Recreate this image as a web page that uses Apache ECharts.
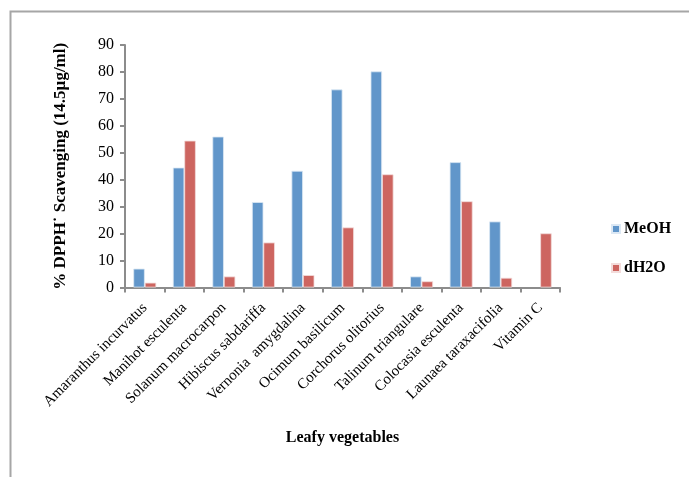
<!DOCTYPE html>
<html>
<head>
<meta charset="utf-8">
<script src="https://cdn.jsdelivr.net/npm/echarts@6/dist/echarts.min.js"></script>
<style>
html,body{margin:0;padding:0;background:#fff;}
#chart{width:689px;height:477px;}
</style>
</head>
<body>
<div id="chart"></div>
<script>
// Leafy vegetable extracts and their DPPH radical scavenging (%)
var categories = [
  'Amaranthus incurvatus', 'Manihot esculenta', 'Solanum macrocarpon',
  'Hibiscus sabdariffa', 'Vernonia  amygdalina', 'Ocimum basilicum',
  'Corchorus olitorius', 'Talinum triangulare', 'Colocasia esculenta',
  'Launaea taraxacifolia', 'Vitamin C'
];
var meohValues = [7.0, 44.5, 56.0, 31.7, 43.3, 73.5, 80.2, 4.1, 46.5, 24.5, null];
var dh2oValues = [1.8, 54.5, 4.1, 16.7, 4.6, 22.3, 42.0, 2.3, 32.0, 3.6, 20.1];
var yTicks = [0, 10, 20, 30, 40, 50, 60, 70, 80, 90];

var serif = '"Liberation Serif", "Times New Roman", serif';
var axisGray = '#8c8c8c';

var chart = echarts.init(document.getElementById('chart'));
chart.setOption({
  animation: false,
  backgroundColor: '#fff',
  graphic: [{
    type: 'polyline',
    shape: { points: [[10.5, 477], [10.5, 11.5], [689, 11.5]] },
    style: { stroke: '#a6a6a6', lineWidth: 2, fill: null },
    silent: true
  }],
  grid: { left: 125, right: 129, top: 45, bottom: 189.5, containLabel: false },
  legend: {
    orient: 'vertical',
    left: 606,
    top: 216,
    itemWidth: 8,
    itemHeight: 8,
    itemGap: 23,
    icon: 'rect',
    textStyle: { fontFamily: serif, fontWeight: 'bold', fontSize: 16, color: '#000', padding: [0, 0, 0, -1] },
    data: ['MeOH', 'dH2O']
  },
  xAxis: {
    type: 'category',
    data: categories,
    name: 'Leafy vegetables',
    nameLocation: 'middle',
    nameGap: 142,
    nameTextStyle: { fontFamily: serif, fontWeight: 'bold', fontSize: 16, color: '#000' },
    axisLine: { lineStyle: { color: axisGray, width: 2 } },
    axisTick: { show: true, length: 5, lineStyle: { color: axisGray, width: 2 }, alignWithLabel: false },
    axisLabel: {
      interval: 0,
      rotate: 45,
      margin: 18,
      fontFamily: serif,
      fontSize: 15,
      color: '#000'
    },
    splitLine: { show: false }
  },
  yAxis: {
    type: 'value',
    min: yTicks[0],
    max: yTicks[yTicks.length - 1],
    interval: 10,
    name: '% DPPH\u02D9 Scavenging (14.5\u00B5g/ml)',
    nameLocation: 'middle',
    nameGap: 56,
    nameRotate: 90,
    nameTextStyle: { fontFamily: serif, fontWeight: 'bold', fontSize: 17, color: '#000' },
    axisLine: { show: true, lineStyle: { color: axisGray, width: 2 } },
    axisTick: { show: true, length: 5, lineStyle: { color: axisGray, width: 2 } },
    axisLabel: { margin: 11, fontFamily: serif, fontSize: 16, color: '#000' },
    splitLine: { show: false }
  },
  series: [
    {
      name: 'MeOH',
      type: 'bar',
      data: meohValues,
      barGap: '0%',
      barCategoryGap: '42%',
      itemStyle: { color: '#6196CA', borderColor: '#dce8f4', borderWidth: 0.8 }
    },
    {
      name: 'dH2O',
      type: 'bar',
      data: dh2oValues,
      barGap: '0%',
      barCategoryGap: '42%',
      itemStyle: { color: '#CD6560', borderColor: '#f3dcdb', borderWidth: 0.8 }
    }
  ]
});
</script>
</body>
</html>
